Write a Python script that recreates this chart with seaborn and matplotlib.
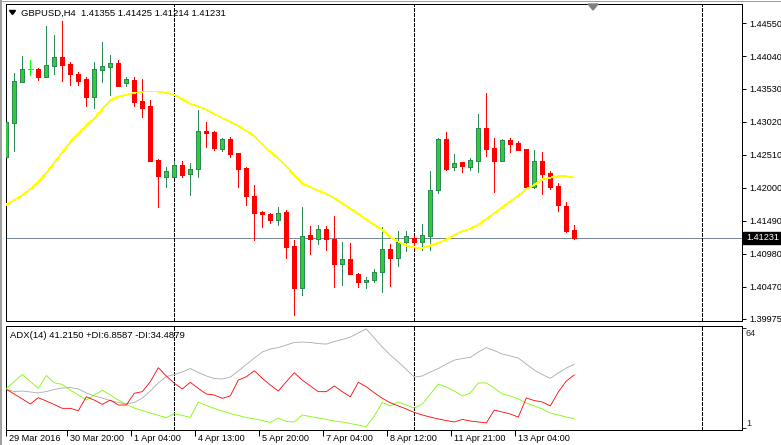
import numpy as np
import pandas as pd
import matplotlib
matplotlib.use("Agg")
import matplotlib.pyplot as plt
import matplotlib.transforms as mtransforms
from matplotlib.patches import Polygon, Rectangle
from matplotlib.lines import Line2D
import seaborn as sns

# ---------------- data ----------------
symbol_title = "GBPUSD,H4  1.41355 1.41425 1.41214 1.41231"
adx_title = "ADX(14) 41.2150 +DI:6.8587 -DI:34.4879"
bid_price = 1.41231

opens = [1.4248, 1.4301, 1.4364, 1.4384, 1.4384, 1.4372, 1.4389, 1.4403, 1.4392, 1.4376,
         1.4369, 1.4341, 1.4383, 1.4387, 1.4393, 1.4362, 1.4367, 1.4335, 1.4326, 1.4243,
         1.4217, 1.4217, 1.4236, 1.4221, 1.4229, 1.4288, 1.4287, 1.4260, 1.4276, 1.4254,
         1.4231, 1.4188, 1.4163, 1.4159, 1.4151, 1.4163, 1.4110, 1.4045, 1.4127, 1.4121,
         1.4136, 1.4121, 1.4082, 1.4090, 1.4067, 1.4055, 1.4057, 1.4070, 1.4105, 1.4091,
         1.4116, 1.4122, 1.4117, 1.4125, 1.4197, 1.4276, 1.4232, 1.4240, 1.4233, 1.4242,
         1.4292, 1.4262, 1.4241, 1.4274, 1.4270, 1.4260, 1.4202, 1.4242, 1.4223, 1.4203,
         1.4172, 1.41355]
highs = [1.4308, 1.4378, 1.4404, 1.4398, 1.4386, 1.4450, 1.4437, 1.4458, 1.4395, 1.4380,
         1.4371, 1.4395, 1.4426, 1.4406, 1.4398, 1.4372, 1.4371, 1.4369, 1.4336, 1.4245,
         1.4233, 1.4242, 1.4241, 1.4238, 1.4321, 1.4302, 1.4288, 1.4278, 1.4279, 1.4254,
         1.4233, 1.4205, 1.4164, 1.4162, 1.4170, 1.4166, 1.4120, 1.4170, 1.4141, 1.4143,
         1.4141, 1.4157, 1.4116, 1.4115, 1.4069, 1.4063, 1.4075, 1.4140, 1.4113, 1.4134,
         1.4134, 1.4126, 1.4144, 1.4226, 1.4278, 1.4286, 1.4252, 1.4240, 1.4246, 1.4314,
         1.4347, 1.4278, 1.4276, 1.4278, 1.4273, 1.4260, 1.4259, 1.4255, 1.4226, 1.4207,
         1.4178, 1.41425]
lows = [1.4241, 1.4257, 1.4364, 1.4375, 1.4367, 1.4372, 1.4376, 1.4365, 1.4359, 1.4359,
        1.4326, 1.4324, 1.4364, 1.4344, 1.4358, 1.4357, 1.4327, 1.4310, 1.4242, 1.4170,
        1.4202, 1.4217, 1.4217, 1.4189, 1.4217, 1.4264, 1.4259, 1.4257, 1.4248, 1.4202,
        1.4174, 1.4120, 1.4140, 1.4146, 1.4142, 1.4092, 1.4004, 1.4034, 1.4098, 1.4114,
        1.4104, 1.4047, 1.4050, 1.4067, 1.4047, 1.4046, 1.4054, 1.4039, 1.4049, 1.4080,
        1.4102, 1.4107, 1.4104, 1.4104, 1.4192, 1.4228, 1.4228, 1.4225, 1.4228, 1.4225,
        1.4250, 1.4194, 1.4241, 1.4256, 1.4259, 1.4202, 1.4200, 1.4191, 1.4198, 1.4165,
        1.4132, 1.41214]
closes = [1.4302, 1.4365, 1.4384, 1.4384, 1.4372, 1.4390, 1.4403, 1.4390, 1.4376, 1.4366,
          1.4341, 1.4384, 1.4389, 1.4393, 1.4358, 1.4368, 1.4333, 1.4324, 1.4242, 1.4219,
          1.4226, 1.4236, 1.4220, 1.4229, 1.4288, 1.4285, 1.4261, 1.4276, 1.4253, 1.4230,
          1.4187, 1.4162, 1.4159, 1.4151, 1.4162, 1.4109, 1.4045, 1.4126, 1.4121, 1.4136,
          1.4121, 1.4082, 1.4090, 1.4067, 1.4055, 1.4058, 1.4070, 1.4105, 1.4091, 1.4116,
          1.4125, 1.4117, 1.4127, 1.4197, 1.4275, 1.4229, 1.4238, 1.4234, 1.4243, 1.4292,
          1.4260, 1.4241, 1.4274, 1.4268, 1.4259, 1.4202, 1.4242, 1.4222, 1.4202, 1.4173,
          1.4134, 1.41231]
ma_values = [1.4174, 1.4181, 1.4189, 1.4198, 1.4210, 1.4223, 1.4239, 1.4255, 1.4271, 1.4284,
             1.4297, 1.4307, 1.4322, 1.4335, 1.4341, 1.4344, 1.4347, 1.4349, 1.4349, 1.4349,
             1.4347, 1.4344, 1.4337, 1.4330, 1.4326, 1.4321, 1.4314, 1.4308, 1.4302, 1.4296,
             1.4288, 1.4280, 1.4267, 1.4256, 1.4246, 1.4233, 1.4220, 1.4207, 1.4201, 1.4196,
             1.4191, 1.4184, 1.4176, 1.4168, 1.4160, 1.4151, 1.4143, 1.4135, 1.4124, 1.4117,
             1.4111, 1.4108, 1.4107, 1.4111, 1.4115, 1.4120, 1.4127, 1.4133, 1.4137, 1.4143,
             1.4152, 1.4161, 1.4170, 1.4179, 1.4188, 1.4198, 1.4205, 1.4213, 1.4216, 1.4218,
             1.4218, 1.4216]
adx_main = [25.3, 24.0, 24.3, 23.7, 23.1, 24.0, 25.3, 26.2, 26.5, 25.6,
            23.1, 21.2, 19.9, 18.3, 17.1, 16.1, 17.1, 19.9, 24.3, 29.4,
            33.4, 34.7, 36.3, 38.5, 36.0, 33.8, 32.2, 31.9, 33.1, 36.9,
            41.0, 45.1, 48.9, 50.8, 51.7, 53.3, 54.9, 55.2, 54.9, 54.2,
            53.9, 55.5, 56.8, 58.3, 60.9, 63.5, 57.7, 52.0, 47.0, 42.6,
            37.9, 33.1, 33.8, 36.3, 38.5, 41.3, 43.8, 44.8, 45.5, 48.9,
            51.7, 49.8, 47.6, 46.4, 45.1, 41.3, 37.5, 34.7, 32.3, 35.7,
            38.8, 41.2]
plus_di = [25.9, 30.3, 34.8, 30.3, 25.9, 34.1, 29.5, 28.5, 24.9, 21.8,
           18.6, 21.8, 24.8, 21.8, 18.6, 15.8, 13.6, 12.0, 10.5, 8.9,
           7.5, 10.1, 8.9, 7.7, 17.4, 15.2, 13.3, 11.7, 10.1, 8.9,
           7.6, 6.7, 5.7, 4.5, 7.3, 5.1, 4.8, 9.2, 8.2, 7.3,
           6.4, 5.4, 4.8, 3.8, 2.9, 1.8, 8.6, 17.1, 14.9, 17.4,
           15.5, 13.6, 16.1, 22.4, 28.7, 26.8, 24.3, 21.2, 23.1, 29.4,
           29.4, 26.2, 22.4, 21.2, 19.3, 16.8, 14.9, 13.0, 10.5, 9.2,
           7.9, 6.86]
minus_di = [25.4, 22.4, 19.3, 16.1, 20.1, 18.0, 15.8, 13.4, 13.4, 11.9,
            20.7, 18.6, 15.9, 18.6, 15.5, 15.5, 22.9, 23.9, 30.2, 39.0,
            33.8, 29.2, 25.6, 29.8, 26.0, 22.4, 21.8, 19.7, 21.2, 31.2,
            33.3, 37.1, 32.3, 28.1, 24.3, 30.2, 35.8, 31.2, 27.5, 23.9,
            23.9, 27.5, 23.9, 20.7, 29.8, 27.0, 23.2, 19.7, 16.9, 14.9,
            13.0, 10.8, 9.2, 7.9, 6.7, 5.7, 4.8, 6.4, 5.4, 4.8,
            4.2, 12.3, 11.1, 9.8, 7.9, 19.9, 18.3, 17.4, 14.9, 23.7,
            30.6, 34.49]
time_label_bars = [0, 8, 16, 24, 32, 40, 48, 56, 64]
time_labels = ["29 Mar 2016", "30 Mar 20:00", "1 Apr 04:00", "4 Apr 13:00", "5 Apr 20:00",
               "7 Apr 04:00", "8 Apr 12:00", "11 Apr 21:00", "13 Apr 04:00"]
price_ticks = [1.44550, 1.44040, 1.43530, 1.43020, 1.42510, 1.42000, 1.41490, 1.40980, 1.40470, 1.39975]
adx_scale_labels = ["64", "1"]
week_separators = [21, 51, 87]

# ---------------- style ----------------
sns.set_style("white")
plt.rcParams["font.family"] = ["Liberation Sans", "DejaVu Sans"]

W, H = 781, 445
fig = plt.figure(figsize=(W / 100, H / 100), dpi=100)
fig.patch.set_facecolor("white")


def box(x0, y0, x1, y1):
    return [x0 / W, 1 - y1 / H, (x1 - x0) / W, (y1 - y0) / H]


def fx(x):
    return x / W


def fy(y):
    return 1 - y / H


PX = 0.72  # one pixel in points
FS = 6.6

ax = fig.add_axes(box(5.5, 4, 742, 321))
ax2 = fig.add_axes(box(5.5, 326, 742, 430))

df = pd.DataFrame({"bar": np.arange(len(opens)), "open": opens, "high": highs,
                   "low": lows, "close": closes, "ma": ma_values,
                   "adx": adx_main, "pdi": plus_di, "mdi": minus_di})
bull = df[df.close > df.open]
bear = df[df.close < df.open]
doji = df[df.close == df.open]

# bid line
ax.axhline(bid_price, color="#778899", lw=PX, zorder=1, antialiased=False)

# wicks
for sub, wc in ((bull, "#2E8B57"), (bear, "#FF0000"), (doji, "#00FF00")):
    ax.vlines(sub.bar, sub.low, sub.high, colors=wc, lw=PX, zorder=2, antialiased=False)

# bodies
min_h = 0.00012
for sub, fc, ec in ((bull, "#32CD32", "#2E8B57"), (bear, "#FF0000", "#FF0000")):
    h = np.maximum((sub.close - sub.open).abs(), min_h)
    ax.bar(sub.bar, h, bottom=np.minimum(sub.open, sub.close), width=0.5, color=fc,
           edgecolor=ec, linewidth=PX, zorder=3, antialiased=False)
ax.hlines(doji.open, doji.bar - 0.35, doji.bar + 0.35, colors="#00FF00", lw=PX, zorder=3,
          antialiased=False)

# moving average
sns.lineplot(data=df, x="bar", y="ma", ax=ax, color="#FFFF00", lw=0.55, zorder=4,
             legend=False, antialiased=False)

# ADX pane
sns.lineplot(data=df, x="bar", y="adx", ax=ax2, color="#A9A9A9", lw=0.6, legend=False, zorder=3)
sns.lineplot(data=df, x="bar", y="pdi", ax=ax2, color="#7CFC00", lw=0.6, legend=False, zorder=3)
sns.lineplot(data=df, x="bar", y="mdi", ax=ax2, color="#FF0000", lw=0.6, legend=False, zorder=3)

for a in (ax, ax2):
    for s in week_separators:
        a.axvline(s, color="black", lw=PX, ls=(0, (3, 2)), zorder=1.5, antialiased=False)
    a.set_xlim(-0.1, 91.96)
    for sp in a.spines.values():
        sp.set_color("black")
        sp.set_linewidth(PX)
    a.set_xlabel("")
    a.set_ylabel("")
    a.set_facecolor("white")

ax.set_ylim(1.39943, 1.44844)
ax.set_xticks([])
ax.yaxis.tick_right()
ax.set_yticks(price_ticks)
ax.set_yticklabels([f"{t:.5f}" for t in price_ticks])
ax.tick_params(axis="y", direction="out", length=3, width=PX, pad=2, labelsize=FS,
               colors="black", right=True, left=False)

ax2.set_ylim(-0.26, 65.3)
ax2.yaxis.tick_right()
ax2.set_yticks([64, 1])
ax2.set_yticklabels(["", ""])
ax2.tick_params(axis="y", direction="out", length=3, width=PX, right=True, left=False)
tick_pos = [b - 0.4 if b > 0 else 0 for b in time_label_bars]
ax2.set_xticks(tick_pos)
ax2.set_xticklabels([""] * len(tick_pos))
ax2.tick_params(axis="x", direction="out", length=4, width=PX, bottom=True, colors="black")

blend = mtransforms.blended_transform_factory(ax2.transData, ax2.transAxes)
off = mtransforms.ScaledTranslation(3 / 100, 0, fig.dpi_scale_trans)
for p, lab in zip(tick_pos, time_labels):
    ax2.text(p, -0.077, lab, transform=blend + off, ha="left", va="center", fontsize=FS,
             color="black", clip_on=False)

# scale labels of the ADX window
fig.text(fx(746), fy(333), adx_scale_labels[0], ha="left", va="center", fontsize=FS)
fig.text(fx(746), fy(424), adx_scale_labels[1], ha="left", va="center", fontsize=FS)

# headers
fig.text(fx(21), fy(13), symbol_title, ha="left", va="center", fontsize=6.8, color="black")
fig.text(fx(10), fy(335), adx_title, ha="left", va="center", fontsize=6.8, color="black")
fig.add_artist(Polygon([[fx(9.5), fy(10.5)], [fx(15.5), fy(10.5)], [fx(12.5), fy(14.5)]],
                       closed=True, transform=fig.transFigure, color="black"))
# shift marker
fig.add_artist(Polygon([[fx(588), fy(4)], [fx(598), fy(4)], [fx(593), fy(10)]],
                       closed=True, transform=fig.transFigure, color="#808080"))

# bid label box
fig.add_artist(Rectangle((fx(743), fy(244)), 38 / W, 12 / H, transform=fig.transFigure,
                         color="black", zorder=5))
fig.text(fx(746), fy(238), f"{bid_price:.5f}", ha="left", va="center", fontsize=FS,
         color="white", zorder=6)

# window edges
fig.add_artist(Line2D([0, 1], [fy(0.5), fy(0.5)], transform=fig.transFigure, color="#A0A0A0", lw=PX))
fig.add_artist(Line2D([fx(1), fx(1)], [0, 1], transform=fig.transFigure, color="#A0A0A0", lw=2 * PX))

fig.savefig("out.png", dpi=100, facecolor="white")
